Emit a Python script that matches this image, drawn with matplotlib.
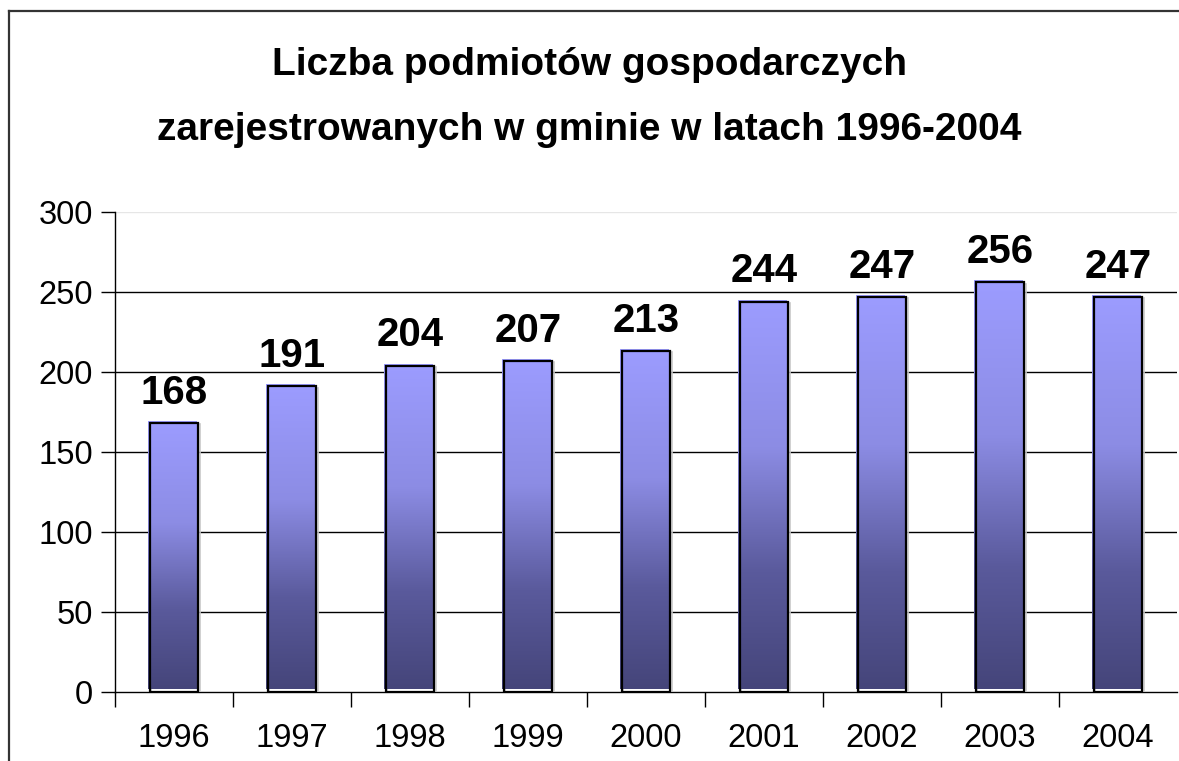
import numpy as np
import matplotlib
matplotlib.use("Agg")
import matplotlib.pyplot as plt
from matplotlib.colors import LinearSegmentedColormap
from matplotlib.lines import Line2D

plt.rcParams['font.family'] = ['Liberation Sans', 'DejaVu Sans']

# Data
years = ["1996", "1997", "1998", "1999", "2000", "2001", "2002", "2003", "2004"]
counts = [168, 191, 204, 207, 213, 244, 247, 256, 247]
y_ticks = [0, 50, 100, 150, 200, 250, 300]
title_lines = ["Liczba podmiotów gospodarczych",
               "zarejestrowanych w gminie w latach 1996-2004"]

fig = plt.figure(figsize=(11.79, 7.61), dpi=100)
W, H = 1179, 761
ax = fig.add_axes([115 / W, 1 - 692 / H, 1062 / W, 480 / H])

x = np.arange(len(years))
width = 0.41
cmap = LinearSegmentedColormap.from_list(
    "barfill", [(0.0, "#45457a"), (0.3, "#5a5a9c"), (0.62, "#8c8ce4"), (1.0, "#9c9cff")])

# gradient bars
for xi, v in zip(x, counts):
    grad = np.linspace(0, 1, 256).reshape(-1, 1)
    dx = 0.018
    fill = plt.Rectangle((xi - width / 2 - dx, 2), width, v - 0.8, facecolor="none",
                         edgecolor="none", zorder=3)
    ax.add_patch(fill)
    im = ax.imshow(grad, cmap=cmap, origin="lower", aspect="auto",
                   extent=(xi - width / 2 - dx, xi + width / 2 - dx, 2, v + 1.2), zorder=3)
    im.set_clip_path(fill)
    # light shadow on the right side
    ax.add_patch(plt.Rectangle((xi - width / 2 + 0.012, -0.8), width, v, facecolor="none",
                               edgecolor="#c8c8c8", linewidth=1.2, zorder=2.9))
    ax.add_patch(plt.Rectangle((xi - width / 2, 0), width, v, facecolor="none",
                               edgecolor="black", linewidth=1.6, zorder=4))
    ax.text(xi, v + 7, str(v), ha="center", va="bottom", fontsize=29,
            fontweight="bold", zorder=5)

ax.set_xlim(-0.5, len(years) - 0.5)
ax.set_ylim(0, 300)

# gridlines
for t in y_ticks[1:-1]:
    ax.axhline(t, color="black", linewidth=1.0, zorder=1)
ax.axhline(300, color="#e6e6e6", linewidth=1.0, zorder=1)

ax.set_xticks(x)
ax.set_xticklabels(years, fontsize=23.5)
ax.set_xticks(np.arange(len(years)) - 0.5, minor=True)
ax.tick_params(axis="x", which="major", length=0, pad=22)
ax.tick_params(axis="x", which="minor", length=11, width=1.0, direction="out")
ax.set_yticks(y_ticks)
ax.set_yticklabels([str(t) for t in y_ticks], fontsize=23.5)
ax.tick_params(axis="y", length=10, width=1.0, direction="out", pad=6)

for s in ["top", "right"]:
    ax.spines[s].set_visible(False)
ax.spines["left"].set_linewidth(1.0)
ax.spines["bottom"].set_linewidth(1.0)

fig.text(0.5, 1 - 65 / H, title_lines[0], ha="center", va="center", fontsize=28,
         fontweight="bold")
fig.text(0.5, 1 - 130 / H, title_lines[1], ha="center", va="center", fontsize=28,
         fontweight="bold")

# outer chart frame (cut off on the right and bottom)
fig.add_artist(Line2D([9 / W, 9 / W], [0, 1 - 11 / H], color="#333333", linewidth=1.6))
fig.add_artist(Line2D([9 / W, 1], [1 - 11 / H, 1 - 11 / H], color="#333333", linewidth=1.6))

fig.savefig("out.png", dpi=100)
